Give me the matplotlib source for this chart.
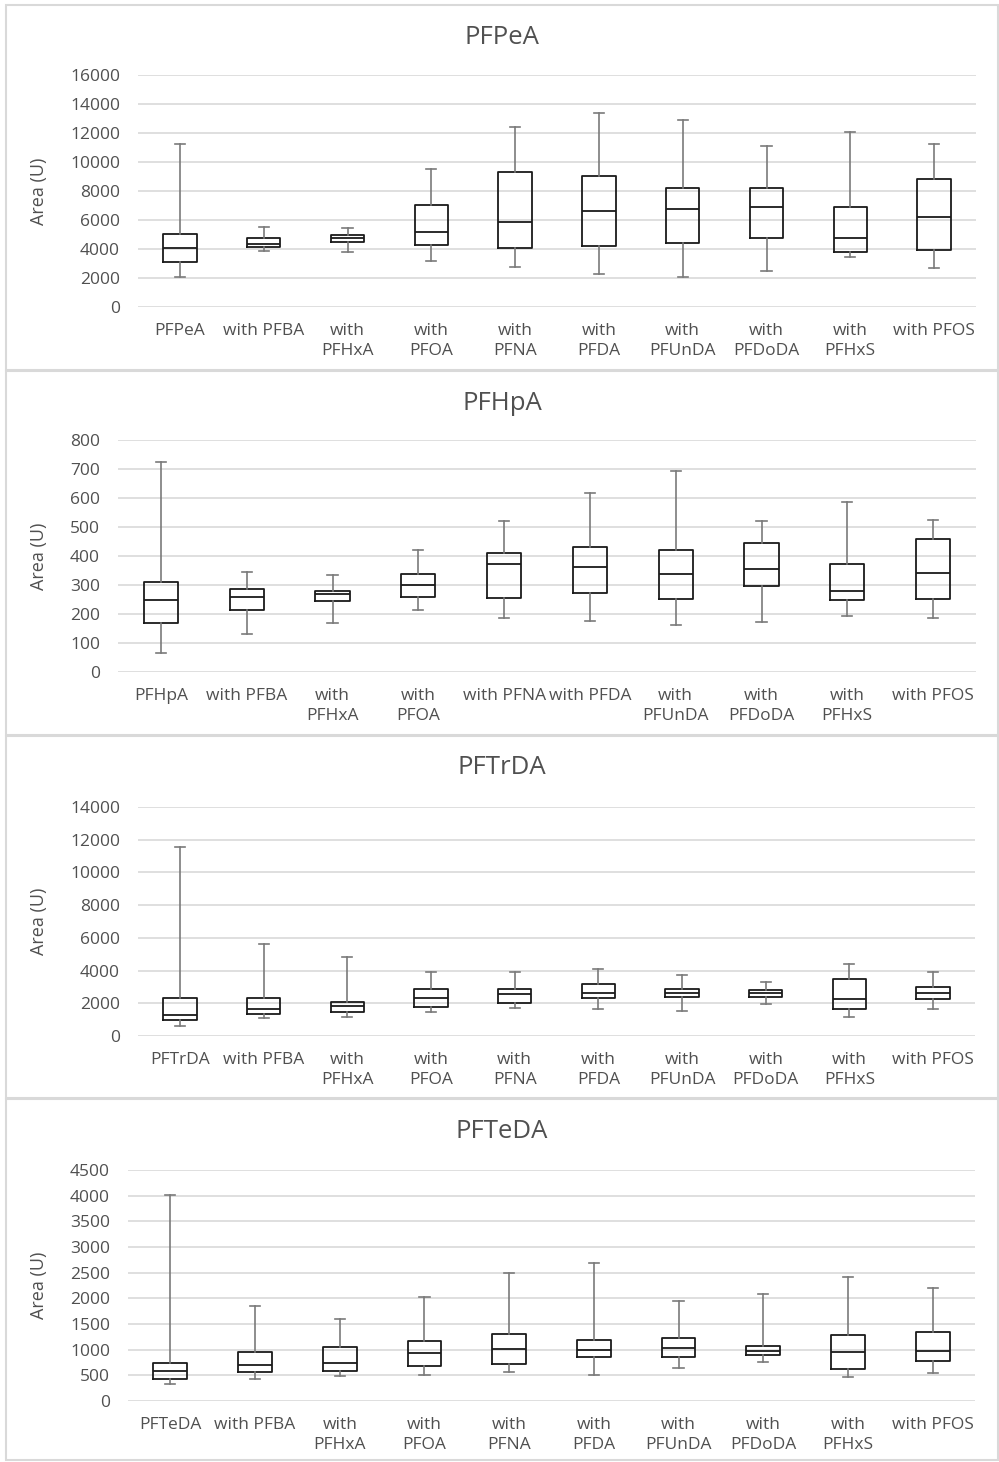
import matplotlib.pyplot as plt
from matplotlib.patches import Rectangle

plt.rcParams['font.family'] = ['Open Sans', 'DejaVu Sans']

W, H = 999, 1462

# ---- data: whisker low, Q1, median, Q3, whisker high ----
others = ["with PFBA", "with\nPFHxA", "with\nPFOA", "with\nPFNA", "with\nPFDA",
          "with\nPFUnDA", "with\nPFDoDA", "with\nPFHxS", "with PFOS"]
others_hpa = ["with PFBA", "with\nPFHxA", "with\nPFOA", "with PFNA", "with PFDA",
              "with\nPFUnDA", "with\nPFDoDA", "with\nPFHxS", "with PFOS"]

pfpea_lo = [2100, 3870, 3760, 3180, 2790, 2280, 2100, 2470, 3480, 2720]
pfpea_q1 = [3110, 4170, 4450, 4310, 4050, 4240, 4380, 4790, 3800, 3900]
pfpea_med = [4050, 4350, 4740, 5140, 5830, 6590, 6770, 6910, 4740, 6200]
pfpea_q3 = [5040, 4740, 5000, 7020, 9280, 9050, 8220, 8220, 6910, 8840]
pfpea_hi = [11260, 5550, 5440, 9530, 12390, 13400, 12910, 11080, 12090, 11260]

pfhpa_lo = [67, 130, 168, 213, 186, 175, 161, 171, 192, 186]
pfhpa_q1 = [168, 215, 245, 259, 255, 272, 253, 298, 248, 253]
pfhpa_med = [248, 259, 269, 300, 374, 361, 338, 355, 279, 341]
pfhpa_q3 = [310, 287, 278, 338, 410, 430, 420, 446, 372, 457]
pfhpa_hi = [724, 345, 334, 420, 521, 616, 693, 521, 587, 523]

pftrda_lo = [630, 1080, 1180, 1465, 1690, 1630, 1530, 1970, 1140, 1630]
pftrda_q1 = [960, 1340, 1465, 1790, 2035, 2300, 2360, 2360, 1630, 2240]
pftrda_med = [1300, 1630, 1830, 2300, 2560, 2600, 2645, 2600, 2280, 2600]
pftrda_q3 = [2300, 2300, 2080, 2850, 2890, 3195, 2890, 2790, 3460, 3010]
pftrda_hi = [11580, 5600, 4820, 3930, 3930, 4090, 3700, 3320, 4420, 3930]

pfteda_lo = [332, 423, 495, 508, 573, 508, 651, 755, 469, 541]
pfteda_q1 = [436, 560, 593, 690, 716, 853, 866, 905, 632, 788]
pfteda_med = [586, 703, 736, 938, 1009, 996, 1029, 983, 951, 970]
pfteda_q3 = [749, 964, 1055, 1166, 1309, 1198, 1231, 1075, 1289, 1348]
pfteda_hi = [4005, 1843, 1596, 2025, 2494, 2690, 1941, 2077, 2416, 2208]

panels = [
    dict(title="PFPeA", labels=["PFPeA"] + others, ymax=16000, step=2000,
         lo=pfpea_lo, q1=pfpea_q1, med=pfpea_med, q3=pfpea_q3, hi=pfpea_hi,
         frame=(5, 370), ax=(138, 75, 976, 307)),
    dict(title="PFHpA", labels=["PFHpA"] + others_hpa, ymax=800, step=100,
         lo=pfhpa_lo, q1=pfhpa_q1, med=pfhpa_med, q3=pfhpa_q3, hi=pfhpa_hi,
         frame=(371, 735), ax=(118, 440, 976, 672)),
    dict(title="PFTrDA", labels=["PFTrDA"] + others, ymax=14000, step=2000,
         lo=pftrda_lo, q1=pftrda_q1, med=pftrda_med, q3=pftrda_q3, hi=pftrda_hi,
         frame=(736, 1098), ax=(138, 807, 975, 1036)),
    dict(title="PFTeDA", labels=["PFTeDA"] + others, ymax=4500, step=500,
         lo=pfteda_lo, q1=pfteda_q1, med=pfteda_med, q3=pfteda_q3, hi=pfteda_hi,
         frame=(1099, 1460), ax=(128, 1170, 975, 1401)),
]

text_c = "#505050"
fig = plt.figure(figsize=(W / 100, H / 100), dpi=100)

for p in panels:
    top, bot = p["frame"]
    fig.patches.append(Rectangle((6 / W, 1 - bot / H), 992 / W, (bot - top) / H,
                                 transform=fig.transFigure, fill=False,
                                 edgecolor="#d9d9d9", lw=1.5))
    fig.text(502 / W, 1 - (top + 32) / H, p["title"], ha="center", va="center",
             fontsize=18.5, color=text_c)

    x0, y0, x1, y1 = p["ax"]
    ax = fig.add_axes([x0 / W, 1 - y1 / H, (x1 - x0) / W, (y1 - y0) / H])

    stats = []
    for i in range(len(p["labels"])):
        stats.append(dict(whislo=p["lo"][i], q1=p["q1"][i], med=p["med"][i],
                          q3=p["q3"][i], whishi=p["hi"][i], fliers=[]))
    ax.bxp(stats, positions=range(len(stats)), widths=0.4, capwidths=0.12,
           showfliers=False,
           boxprops=dict(color="#1a1a1a", lw=1.3),
           medianprops=dict(color="#1a1a1a", lw=1.3),
           whiskerprops=dict(color="#7a7a7a", lw=1.2),
           capprops=dict(color="#7a7a7a", lw=1.2))

    ax.set_xlim(-0.5, len(stats) - 0.5)
    ax.set_ylim(0, p["ymax"])
    ax.set_yticks(range(0, p["ymax"] + 1, p["step"]))
    ax.set_xticks(range(len(stats)))
    ax.set_xticklabels(p["labels"], linespacing=1.35)
    ax.tick_params(length=0, labelsize=12.5, labelcolor=text_c)
    ax.tick_params(axis="x", pad=11.5)
    ax.tick_params(axis="y", pad=13)
    ax.grid(axis="y", color="#d9d9d9", lw=1.2)
    ax.set_axisbelow(True)
    for s in ax.spines.values():
        s.set_visible(False)
    ax.set_ylabel("Area (U)", fontsize=13, color=text_c)

for ax, p in zip(fig.axes, panels):
    x0 = p["ax"][0]
    ax.yaxis.set_label_coords((48 - x0) / (p["ax"][2] - x0), 0.5)

fig.savefig("out.png", dpi=100)
